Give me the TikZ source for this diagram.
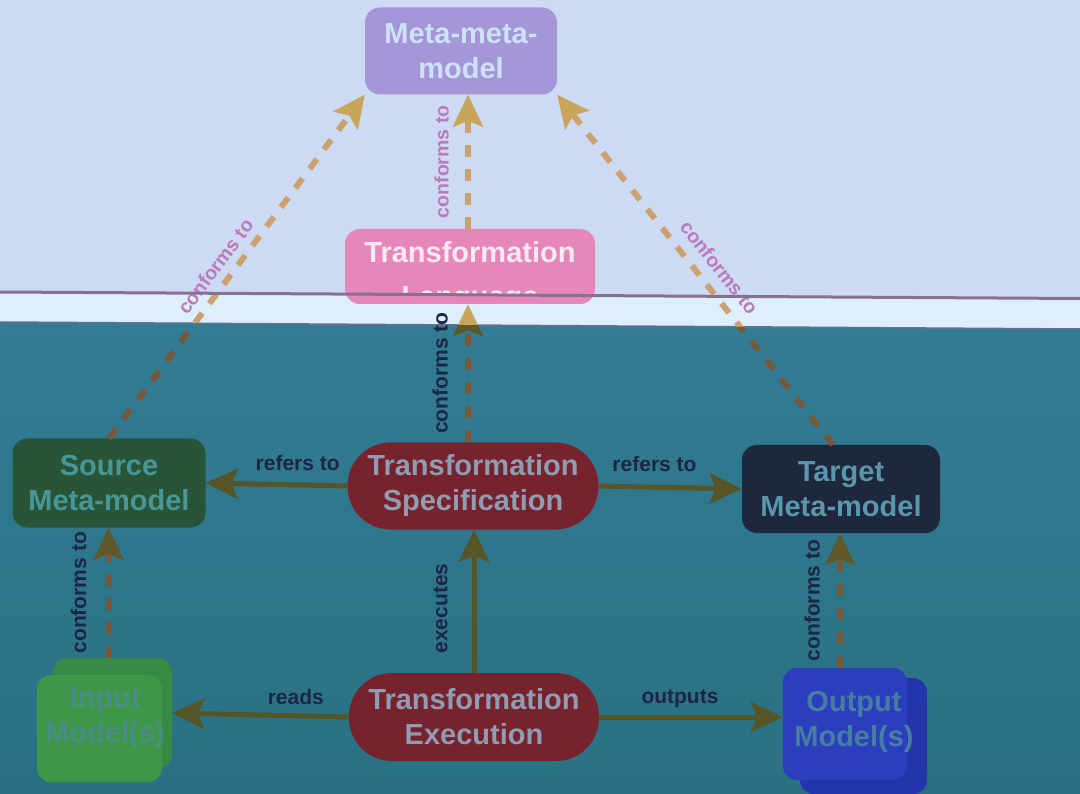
\documentclass[tikz,border=0pt]{standalone}
\usepackage{fontspec}
\setmainfont{Liberation Sans}
\usetikzlibrary{arrows.meta}
\definecolor{bgtop}{RGB}{204,218,243}
\definecolor{bgstrip}{RGB}{220,239,250}
\definecolor{edgeline}{RGB}{135,112,145}
\definecolor{stripline}{RGB}{105,110,150}
\definecolor{tealtop}{RGB}{50,124,148}
\definecolor{tealbot}{RGB}{42,112,130}
\definecolor{mmmfill}{RGB}{165,150,215}
\definecolor{mmmtext}{RGB}{205,225,250}
\definecolor{tlfill}{RGB}{230,135,185}
\definecolor{tltextc}{RGB}{250,232,242}
\definecolor{srcfill}{RGB}{40,85,55}
\definecolor{srctext}{RGB}{72,150,150}
\definecolor{tsfill}{RGB}{118,35,45}
\definecolor{tstext}{RGB}{145,155,178}
\definecolor{tgtfill}{RGB}{30,40,60}
\definecolor{tgttext}{RGB}{90,150,172}
\definecolor{infill}{RGB}{62,150,72}
\definecolor{inbackc}{RGB}{55,138,68}
\definecolor{intext}{RGB}{75,140,135}
\definecolor{outfill}{RGB}{42,62,190}
\definecolor{outbackc}{RGB}{36,52,170}
\definecolor{outtext}{RGB}{70,125,160}
\definecolor{tanline}{RGB}{205,160,112}
\definecolor{tantip}{RGB}{200,165,90}
\definecolor{brownline}{RGB}{120,88,58}
\definecolor{olivetip}{RGB}{95,88,42}
\definecolor{olive}{RGB}{85,85,40}
\definecolor{uplabel}{RGB}{188,122,188}
\definecolor{lowlabel}{RGB}{28,38,70}
\newcommand\confpaths[2]{%
  \draw[confarr={#1}{#2}] (src.north) -- (mmm.south west);
  \draw[confarr={#1}{#2}] ([xshift=-2pt]tl.north) -- ([xshift=-2pt]tl.north |- mmm.south);
  \draw[confarr={#1}{#2}] ([xshift=-8pt]tgt.north) -- (mmm.south east);
  \draw[confarr={#1}{#2}] ([xshift=-5pt]ts.north) -- ([xshift=-5pt]ts.north |- tl.south);
  \draw[confarr={#1}{#2}] ([xshift=-4pt]inbk.north) -- ([xshift=-4pt]inbk.north |- src.south);
  \draw[confarr={#1}{#2}] ([xshift=-5pt]outfr.north) -- ([xshift=-5pt]outfr.north |- tgt.south);
}
\begin{document}
\begin{tikzpicture}[x=1pt,y=-1pt,
  nodefont/.style={font=\bfseries\fontsize{29}{35}\selectfont, align=center},
  box/.style={nodefont, rectangle, rounded corners=15pt, inner sep=0pt},
  pill/.style={nodefont, rectangle, rounded corners=43pt, inner sep=0pt},
  confarr/.style 2 args={line width=6pt, dash pattern=on 12pt off 12pt, draw=#1,
    -{Stealth[length=32pt,width=30pt,inset=6pt,color=#2]}},
  solidarr/.style={line width=5pt, draw=olive,
    -{Stealth[length=32pt,width=30pt,inset=6pt,color=olive]}},
  uplbl/.style={font=\bfseries\fontsize{19.5}{22}\selectfont, text=uplabel, inner sep=0pt},
  lowlbl/.style={font=\bfseries\fontsize{21}{24}\selectfont, text=lowlabel, inner sep=0pt}]
\useasboundingbox (0,0) rectangle (1080,794);
% background: projection screen and board
\fill[bgtop] (0,0) rectangle (1080,300);
\fill[bgstrip] (0,291) -- (1080,299) -- (1080,329) -- (0,322) -- cycle;
\shade[top color=tealtop, bottom color=tealbot] (0,322) -- (1080,329) -- (1080,794) -- (0,794) -- cycle;
\draw[stripline, line width=1.5pt] (0,322) -- (1080,329);
% nodes
\node[box, fill=mmmfill, text=mmmtext, minimum width=192pt, minimum height=87pt] (mmm) at (461,51) {Meta-meta-\\model};
\node[box, fill=tlfill, minimum width=250pt, minimum height=75pt] (tl) at (470,266.5) {};
\begin{scope}
  \clip (0,0) rectangle (1080,294);
  \node[nodefont, text=tltextc, inner sep=0pt] (tltxt) at (470,277) {Transformation\\[9pt]Language};
\end{scope}
\node[box, fill=srcfill, text=srctext, minimum width=193pt, minimum height=89pt] (src) at (109,483) {Source\\Meta-model};
\node[pill, fill=tsfill, text=tstext, minimum width=251pt, minimum height=87pt] (ts) at (473,486) {Transformation\\Specification};
\node[box, fill=tgtfill, text=tgttext, minimum width=198pt, minimum height=88pt] (tgt) at (841,489) {Target\\Meta-model};
\node[pill, fill=tsfill, text=tstext, minimum width=250pt, minimum height=88pt] (te) at (474,717) {Transformation\\Execution};
\node[box, rounded corners=14pt, fill=inbackc, minimum width=119pt, minimum height=110pt] (inbk) at (112.5,713) {};
\node[box, rounded corners=14pt, fill=infill, minimum width=125pt, minimum height=107pt] (infr) at (99.5,728.5) {};
\node[nodefont, text=intext] (intxt) at (105,718) {Input\\Model(s)};
\node[box, rounded corners=14pt, fill=outbackc, minimum width=127pt, minimum height=116pt] (outbk) at (863.5,736) {};
\node[box, rounded corners=14pt, fill=outfill, minimum width=124pt, minimum height=112pt] (outfr) at (845,724) {};
\node[nodefont, text=outtext] (outtxt) at (854,722) {Output\\Model(s)};
% conforms-to arrows (colour differs on screen and on board)
\begin{scope}
  \clip (0,0) -- (1080,0) -- (1080,329) -- (0,322) -- cycle;
  \confpaths{tanline}{tantip}
\end{scope}
\begin{scope}
  \clip (0,322) -- (1080,329) -- (1080,794) -- (0,794) -- cycle;
  \confpaths{brownline}{olivetip}
\end{scope}
% conforms-to labels
\path (src.north) -- (mmm.south west) node[uplbl, sloped, pos=0.47, above=10pt] (c1) {conforms to};
\path ([xshift=-2pt]tl.north) -- ([xshift=-2pt]tl.north |- mmm.south) node[uplbl, sloped, pos=0.5, above=19pt] (c2) {conforms to};
\path ([xshift=-8pt]tgt.north) -- (mmm.south east) node[uplbl, sloped, pos=0.47, above=13pt] (c3) {conforms to};
\path ([xshift=-5pt]ts.north) -- ([xshift=-5pt]ts.north |- tl.south) node[lowlbl, sloped, pos=0.5, above=20pt] (c4) {conforms to};
\path ([xshift=-4pt]inbk.north) -- ([xshift=-4pt]inbk.north |- src.south) node[lowlbl, sloped, pos=0.5, above=22pt] (c5) {conforms to};
\path ([xshift=-5pt]outfr.north) -- ([xshift=-5pt]outfr.north |- tgt.south) node[lowlbl, sloped, pos=0.5, above=20pt] (c6) {conforms to};
% solid arrows
\draw[solidarr] (ts.west) -- (src.east) node[lowlbl, pos=0.35, above=12pt] (r1) {refers to};
\draw[solidarr] (ts.east) -- (tgt.west) node[lowlbl, pos=0.39, above=13pt] (r2) {refers to};
\draw[solidarr] (te.north) -- (te.north |- ts.south) node[lowlbl, sloped, pos=0.45, above=24pt] (ex) {executes};
\draw[solidarr] (te.west) -- (inbk.east) node[lowlbl, pos=0.30, above=9pt] (rd) {reads};
\draw[solidarr] (te.east) -- (te.east -| outfr.west) node[lowlbl, pos=0.44, above=7pt] (op) {outputs};
% screen edge
\draw[edgeline, line width=3pt] (0,292) -- (1080,298.5);
\end{tikzpicture}
\end{document}
